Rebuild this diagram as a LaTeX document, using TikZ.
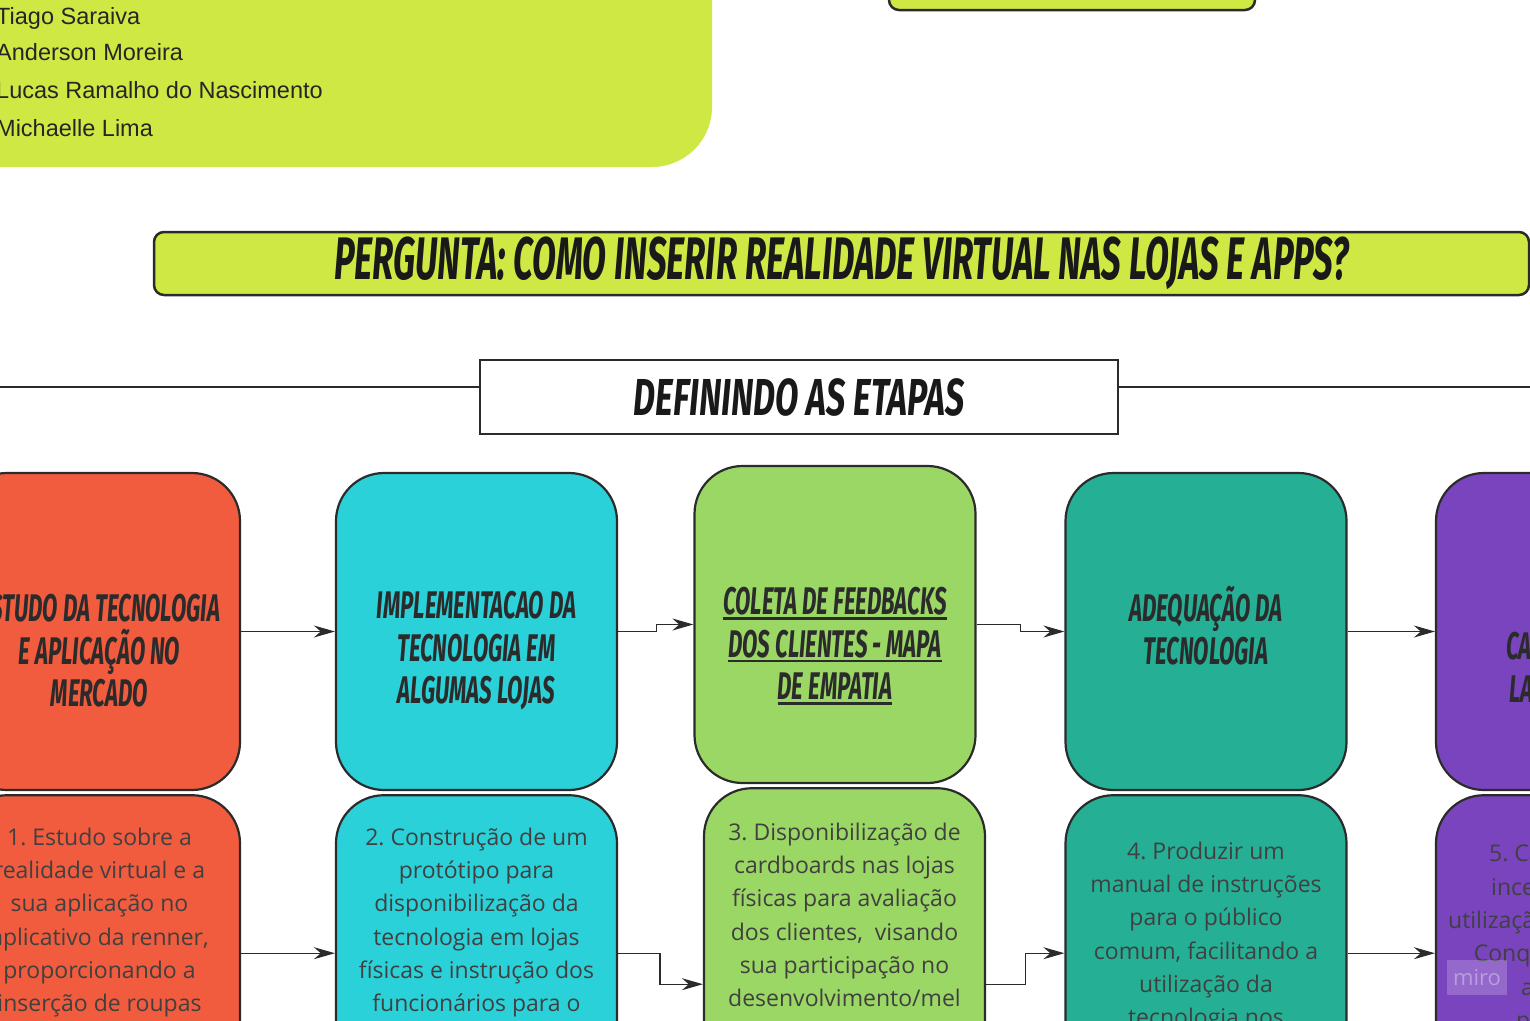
\documentclass[tikz,border=0pt]{standalone}
\usepackage{fontspec}
\setmainfont{Liberation Sans}
\newfontfamily\headfont[FakeStretch=0.58]{Fira Sans}
\newfontfamily\titlefont[FakeStretch=0.655]{Fira Sans}
\newfontfamily\bodyfont{Open Sans}
\usetikzlibrary{positioning,arrows.meta}

\definecolor{lima}{HTML}{CFE844}
\definecolor{vermelho}{HTML}{F15B3E}
\definecolor{ciano}{HTML}{2BD1D8}
\definecolor{verde}{HTML}{9BD764}
\definecolor{turquesa}{HTML}{25B096}
\definecolor{roxo}{HTML}{7A44BE}
\definecolor{contorno}{HTML}{2B2B2B}
\definecolor{cinza}{HTML}{404040}

% sublinhado grosso, como no quadro
\newcommand{\sublinha}[1]{\leavevmode\setbox0\hbox{#1}\rlap{\rule[-5pt]{\wd0}{2.6pt}}\box0}

\tikzset{
  etapa/.style={draw=contorno, line width=2.2pt, rounded corners=48pt,
    minimum width=281pt, minimum height=317pt, text width=270pt, align=flush center,
    inner sep=0pt, text=contorno,
    font=\headfont\bfseries\itshape\fontsize{38.5}{42.5}\selectfont},
  passo/.style={etapa, minimum height=316pt, text=cinza,
    font=\bodyfont\frenchspacing\fontsize{23}{33.3}\selectfont},
  seta/.style={draw=contorno, line width=1.3pt, -{Stealth[length=21pt,width=12pt]}},
  nome/.style={anchor=base west, inner sep=0pt, text=black!85,
    font=\fontsize{23.5}{26}\selectfont}
}

\begin{document}
\begin{tikzpicture}[x=1pt,y=-1pt]
  \useasboundingbox (0,0) rectangle (1530,1020);
  \clip (0,0) rectangle (1530,1020);

  % equipe
  \node[fill=lima, rounded corners=60pt, minimum width=800pt, minimum height=400pt,
        inner sep=0pt] (equipe) at (312,-33) {};
  \node[nome] (n1) at (-4,24)  {Tiago Saraiva};
  \node[nome] (n2) at (-4,60)  {Anderson Moreira};
  \node[nome] (n3) at (-4,98)  {Lucas Ramalho do Nascimento};
  \node[nome] (n4) at (-4,136) {Michaelle Lima};

  \node[fill=lima, draw=contorno, line width=2.5pt, rounded corners=10pt,
        minimum width=366pt, minimum height=60pt] (topo) at (1072,-20) {};

  % pergunta
  \node[fill=lima, draw=contorno, line width=2.5pt, rounded corners=10pt,
        minimum width=1375pt, minimum height=63pt, inner sep=0pt, text=black!90,
        font=\headfont\bfseries\itshape\fontsize{60}{70}\selectfont] (pergunta) at (841.5,263.5)
        {\raisebox{-6pt}{PERGUNTA: COMO INSERIR REALIDADE VIRTUAL NAS LOJAS E APPS?}};

  % titulo
  \coordinate (linhaE) at (-10,387);
  \coordinate (linhaD) at (1540,387);
  \draw[contorno, line width=2pt] (linhaE) -- (linhaD);
  \node[fill=white, draw=contorno, line width=2pt, minimum width=638pt, minimum height=74pt,
        inner sep=0pt, text=black!90,
        font=\titlefont\bfseries\itshape\fontsize{52}{60}\selectfont] (titulo) at (799,397)
        {DEFININDO AS ETAPAS};

  % etapas
  \node[etapa, fill=vermelho] (e1) at (99.5,631.5)
    {\mbox{}\\[24pt]ESTUDO DA TECNOLOGIA\\E APLICAÇÃO NO\\MERCADO};
  \node[etapa, fill=ciano] (e2) at (476.5,631.5)
    {\mbox{}\\[24pt]IMPLEMENTACAO DA\\TECNOLOGIA EM\\ALGUMAS LOJAS};
  \node[etapa, fill=verde] (e3) at (835,624.5)
    {\mbox{}\\[28pt]\sublinha{COLETA DE FEEDBACKS}\\\sublinha{DOS CLIENTES - MAPA}\\\sublinha{DE EMPATIA}};
  \node[etapa, fill=turquesa] (e4) at (1206,631.5)
    {ADEQUAÇÃO DA\\TECNOLOGIA\\[-30.5pt]\mbox{}};
  \node[etapa, fill=roxo] (e5) at (1576.5,631.5)
    {\mbox{}\\[24pt]NOVA\\CAMPANHA DE\\LANÇAMENTO};

  % descricao dos passos
  \node[passo, fill=vermelho, below=3pt of e1] (d1)
    {1. Estudo sobre a\\realidade virtual e a\\sua aplicação no\\aplicativo da renner,\\proporcionando a\\inserção de roupas\\virtuais no corpo\\do cliente.};
  \node[passo, fill=ciano, below=3pt of e2] (d2)
    {2. Construção de um\\protótipo para\\disponibilização da\\tecnologia em lojas\\físicas e instrução dos\\funcionários para o\\atendimento aos\\clientes.};
  \node[passo, fill=verde, minimum height=392pt, below=3pt of e3, xshift=9.5pt] (d3)
    {3. Disponibilização de\\cardboards nas lojas\\físicas para avaliação\\dos clientes,\ \ visando\\sua participação no\\desenvolvimento/mel\\horia da tecnologia\\e coleta de\\sugestões para\\o aplicativo.};
  \node[passo, fill=turquesa, below=3pt of e4] (d4)
    {4. Produzir um\\manual de instruções\\para o público\\comum, facilitando a\\utilização da\\tecnologia nos\\aplicativos.};
  \node[passo, fill=roxo, below=3pt of e5] (d5)
    {5. Campanha de\\incentivo para a\\utilização da tecnologia.\\Conquistar clientes\\através de\\promoções\\exclusivas.};

  % setas
  \draw[seta] (e1) -- (e2);
  \draw[seta] (e2.east) -| ([xshift=-37pt]e3.west) -- (e3.west);
  \draw[seta] (e3.east) -| ([xshift=-44pt]e4.west) -- (e4.west);
  \draw[seta] (e4) -- (e5);

  \draw[seta] (d1) -- (d2);
  \draw[seta] (d2.east) -| ([xshift=-43pt]d3.west) -- (d3.west);
  \draw[seta] (d3.east) -| ([xshift=-39pt]d4.west) -- (d4.west);
  \draw[seta] (d4) -- (d5);

  \node[fill=white, fill opacity=0.2, text opacity=0.35, text=white, minimum width=60pt,
        minimum height=35pt, inner sep=0pt, font=\bodyfont\fontsize{22}{24}\selectfont]
        (miro) at (1477,977.5) {miro};
\end{tikzpicture}
\end{document}
